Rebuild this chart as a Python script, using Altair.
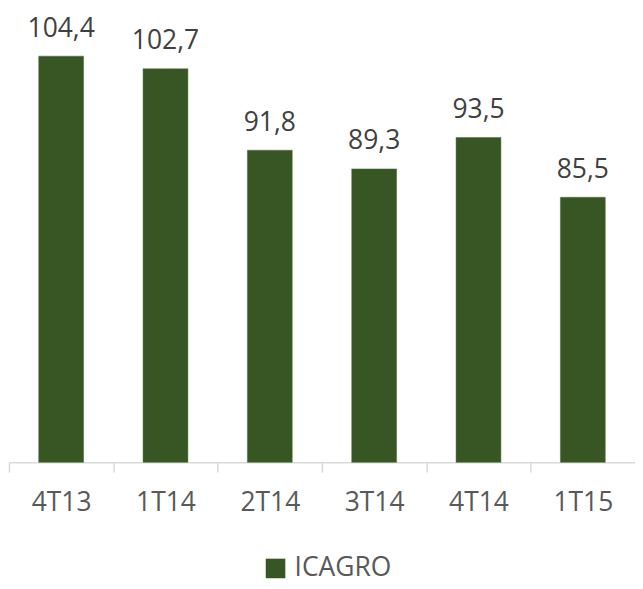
import altair as alt
import pandas as pd

categories = ["4T13", "1T14", "2T14", "3T14", "4T14", "1T15"]
values = [104.4, 102.7, 91.8, 89.3, 93.5, 85.5]
labels = ["104,4", "102,7", "91,8", "89,3", "93,5", "85,5"]
series = "ICAGRO"
y_min = 50
y_max = 110

FONT = "Open Sans"
df = pd.DataFrame({"cat": categories, "val": values, "lab": labels, "serie": [series] * len(categories)})

step = 640 / len(categories)
x = alt.X("cat:N", sort=categories, title=None,
          scale=alt.Scale(paddingInner=0.57, paddingOuter=0.285, range=[0, 640]),
          axis=alt.Axis(labelAngle=0, labelFontSize=27, labelColor="#595959", labelFont=FONT,
                        domainColor="#d9d9d9", tickColor="#d9d9d9", tickSize=10,
                        tickOffset=-step / 2, labelOffset=step / 2,
                        labelPadding=18, domainWidth=1.5, tickWidth=1.5))
y = alt.Y("val:Q", title=None, scale=alt.Scale(domain=[y_min, y_max], zero=False, nice=False),
          axis=None)

bars = alt.Chart(df).mark_bar(stroke="#4a6a33", strokeWidth=0.5).encode(
    x=x, y=y, y2=alt.datum(y_min),
    color=alt.Color("serie:N", scale=alt.Scale(range=["#375623"]), title=None,
                    legend=alt.Legend(orient="none", legendX=259, legendY=553, symbolType="square",
                                      symbolSize=400, labelFontSize=27, labelColor="#595959",
                                      labelFont=FONT, symbolStrokeWidth=0, labelOffset=6))
)
text = alt.Chart(df).mark_text(baseline="alphabetic", dy=-20, fontSize=27, color="#404040", font=FONT).encode(
    x=alt.X("cat:N", sort=categories), y="val:Q", text="lab:N"
)

chart = (bars + text).properties(
    width=634, height=458,
    padding={"top": 0, "left": 0, "right": 0, "bottom": 0}
).configure_view(stroke=None)

chart.save("out.html", embed_options={"renderer": "svg", "actions": False})
